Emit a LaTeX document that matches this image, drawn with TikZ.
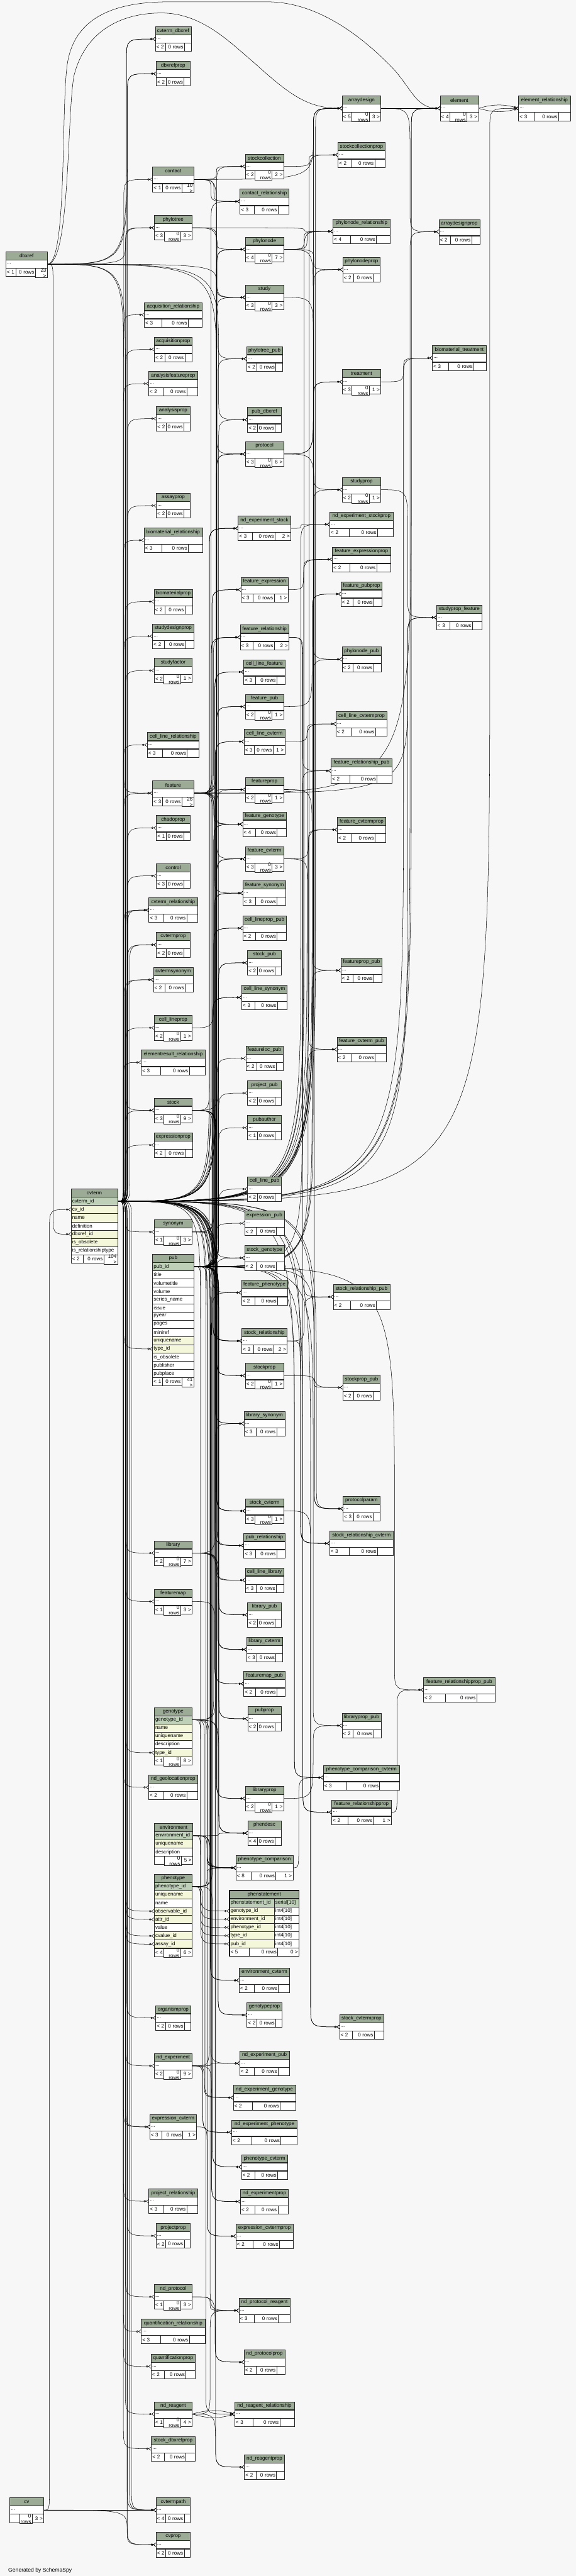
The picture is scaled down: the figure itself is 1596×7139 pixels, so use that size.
\documentclass[tikz,border=0pt]{standalone}
\usepackage{fontspec}
\setmainfont{Liberation Sans}
\usetikzlibrary{arrows.meta,positioning,calc}
\definecolor{Head}{HTML}{9BAB96}
\definecolor{Key}{HTML}{BED1B8}
\definecolor{Idx}{HTML}{F4F7DA}
\definecolor{Canvas}{HTML}{F7F7F7}
\pgfdeclarelayer{canvas}
\pgfdeclarelayer{links}
\pgfsetlayers{canvas,links,main}

% header cell: id, centre x, top y, width (px), title
\newcommand\tabhead[5]{\pgfmathsetmacro\twd{#4*.5-3}%
  \node[hd,text width=\twd pt,anchor=north] (#1-h) at (#2,#3) {#5};}
% one row under another: id, above, width, text, fill
\newcommand\trow[5]{\pgfmathsetmacro\twd{#3*.5-3}%
  \node[cell,fill=#5,text width=\twd pt,anchor=north west] (#1) at (#2.south west) {#4};}
% two-column row (phenstatement): id, above, name, type, fills
\newcommand\prow[6]{%
  \node[cell,fill=#5,text width=59pt,anchor=north west] (#1) at (#2.south west) {#3};
  \node[cell,fill=#6,text width=31.5pt,anchor=north west] (#1-t) at (#1.north east) {#4};}
% footer under the last row: row, width, parents, children
\newcommand\tfoot[4]{\def\ftT{#4}\ifx\ftT\empty\def\ftZ{17}\else\def\ftZ{32}\fi
  \pgfmathsetmacro\ftE{max(0,(#2-79-\ftZ)/3)}%
  \pgfmathsetmacro\ftA{(27+\ftE)*.5-3}%
  \pgfmathsetmacro\ftC{(\ftZ+\ftE)*.5-3}%
  \pgfmathsetmacro\ftB{#2*.5-\ftA-\ftC-9}%
  \node[cell,text width=\ftA pt,anchor=north west] (#1-fl) at (#1.south west) {#3};
  \node[cell,text width=\ftB pt,align=right,anchor=north west] (#1-fm) at (#1-fl.north east) {0 rows};
  \node[cell,text width=\ftC pt,align=right,anchor=north west] (#1-fr) at (#1-fm.north east) {#4};
  \draw[sep] (#1-fl.north west) -- (#1-fr.north east);}
% collapsed table: id, centre x, top y, width, title, parents, children
\newcommand\tbl[7]{\tabhead{#1}{#2}{#3}{#4}{#5}\trow{#1}{#1-h}{#4}{...}{white}\tfoot{#1}{#4}{#6}{#7}%
  \draw[sep] (#1-h.south west) -- (#1-h.south east);}
% foreign key: parent key row -> lane left of the child -> child row
\newcommand\fk[3][0]{\draw[fk] let \p1=(#2.east), \p2=(#3.west),
  \n1={max(\x2-40pt,\x1+8pt)+#1pt},
  \n2={(\y2>\y1?1:-1)*min(max(30pt,1.5*(\n1-\x1)),0.6*abs(\y2-\y1))},
  \n3={(\y2>\y1?1:-1)*min(30pt,0.4*abs(\y2-\y1))} in
  (\p1) .. controls (\n1,\y1) .. (\n1,{\y1+(\n2)}) -- (\n1,{\y2-(\n3)}) .. controls (\n1,\y2) .. (\p2);}

\begin{document}
\begin{tikzpicture}[x=.5pt,y=-.5pt,font=\fontsize{7}{8}\selectfont,
  cell/.style={draw=black!85,line width=.5pt,fill=white,inner xsep=1.5pt,inner ysep=0pt,outer sep=0pt,minimum height=11.4pt,align=left},
  hd/.style={cell,fill=Head,align=center},
  sep/.style={line width=1pt,black!85},
  fk/.style={line width=.45pt,-{Circle[open,length=3pt,width=3pt]Straight Barb[reversed,length=3.5pt,width=5pt]}}]
\useasboundingbox (0,0) rectangle (1596,7139);
\begin{pgfonlayer}{canvas}
  \fill[Canvas] (0,0) rectangle (1596,7139);
\end{pgfonlayer}

% column 1
\tbl{dbxref}{73.5}{698}{115}{dbxref}{< 1}{23 >}
\tbl{cv}{74}{6922}{94}{cv}{}{3 >}

% cvterm
\tabhead{cvterm}{261.5}{3295}{129}{cvterm}
\trow{cvterm}{cvterm-h}{129}{cvterm\_id}{Key}
\trow{cvterm-cv}{cvterm}{129}{cv\_id}{Idx}
\trow{cvterm-name}{cvterm-cv}{129}{name}{Idx}
\trow{cvterm-def}{cvterm-name}{129}{definition}{white}
\trow{cvterm-dbx}{cvterm-def}{129}{dbxref\_id}{Idx}
\trow{cvterm-obs}{cvterm-dbx}{129}{is\_obsolete}{Idx}
\trow{cvterm-rel}{cvterm-obs}{129}{is\_relationshiptype}{white}
\tfoot{cvterm-rel}{129}{< 2}{104 >}
\draw[sep] (cvterm-h.south west) -- (cvterm-h.south east);

% column 2
\tbl{cvterm_dbxref}{480}{74}{99}{cvterm\_dbxref}{< 2}{}
\tbl{dbxrefprop}{480}{170}{94}{dbxrefprop}{< 2}{}
\tbl{contact}{480}{463}{114}{contact}{< 1}{10 >}
\tbl{phylotree}{480}{597}{104}{phylotree}{< 3}{3 >}
\tbl{acquisition_relationship}{480}{838}{160}{acquisition\_relationship}{< 3}{}
\tbl{acquisitionprop}{480}{934}{104}{acquisitionprop}{< 2}{}
\tbl{analysisfeatureprop}{480}{1029}{136}{analysisfeatureprop}{< 2}{}
\tbl{analysisprop}{480}{1126}{93}{analysisprop}{< 2}{}
\tbl{assayprop}{480}{1367}{93}{assayprop}{< 2}{}
\tbl{biomaterial_relationship}{480}{1463}{162}{biomaterial\_relationship}{< 3}{}
\tbl{biomaterialprop}{480}{1633}{106}{biomaterialprop}{< 2}{}
\tbl{studydesignprop}{480}{1729}{114}{studydesignprop}{< 2}{}
\tbl{studyfactor}{480}{1824}{105}{studyfactor}{< 2}{1 >}
\tbl{cell_line_relationship}{480}{2030}{144}{cell\_line\_relationship}{< 3}{}
\tbl{feature}{480}{2164}{114}{feature}{< 3}{26 >}
\tbl{chadoprop}{480}{2260}{93}{chadoprop}{< 1}{}
\tbl{control}{480}{2393}{94}{control}{< 3}{}
\tbl{cvterm_relationship}{480}{2488}{135}{cvterm\_relationship}{< 3}{}
\tbl{cvtermprop}{480}{2584}{93}{cvtermprop}{< 2}{}
\tbl{cvtermsynonym}{480}{2681}{110}{cvtermsynonym}{< 2}{}
\tbl{cell_lineprop}{480}{2814}{105}{cell\_lineprop}{< 2}{1 >}
\tbl{elementresult_relationship}{480}{2910}{177}{elementresult\_relationship}{< 3}{}
\tbl{stock}{480}{3043}{105}{stock}{< 3}{9 >}
\tbl{expressionprop}{480}{3139}{106}{expressionprop}{< 2}{}
\tbl{synonym}{480}{3380}{105}{synonym}{< 1}{3 >}

\tabhead{pub}{480}{3476}{114}{pub}
\trow{pub}{pub-h}{114}{pub\_id}{Key}
\trow{pub-title}{pub}{114}{title}{white}
\trow{pub-vt}{pub-title}{114}{volumetitle}{white}
\trow{pub-vol}{pub-vt}{114}{volume}{white}
\trow{pub-ser}{pub-vol}{114}{series\_name}{white}
\trow{pub-iss}{pub-ser}{114}{issue}{white}
\trow{pub-yr}{pub-iss}{114}{pyear}{white}
\trow{pub-pg}{pub-yr}{114}{pages}{white}
\trow{pub-mr}{pub-pg}{114}{miniref}{white}
\trow{pub-un}{pub-mr}{114}{uniquename}{Idx}
\trow{pub-type}{pub-un}{114}{type\_id}{Idx}
\trow{pub-obs}{pub-type}{114}{is\_obsolete}{white}
\trow{pub-pbl}{pub-obs}{114}{publisher}{white}
\trow{pub-plc}{pub-pbl}{114}{pubplace}{white}
\tfoot{pub-plc}{114}{< 1}{41 >}
\draw[sep] (pub-h.south west) -- (pub-h.south east);

\tbl{library}{480}{4270}{105}{library}{< 2}{7 >}
\tbl{featuremap}{480}{4404}{105}{featuremap}{< 1}{3 >}

\tabhead{genotype}{480}{4732}{105}{genotype}
\trow{genotype}{genotype-h}{105}{genotype\_id}{Key}
\trow{genotype-name}{genotype}{105}{name}{Idx}
\trow{genotype-un}{genotype-name}{105}{uniquename}{Idx}
\trow{genotype-desc}{genotype-un}{105}{description}{white}
\trow{genotype-type}{genotype-desc}{105}{type\_id}{Idx}
\tfoot{genotype-type}{105}{< 1}{8 >}
\draw[sep] (genotype-h.south west) -- (genotype-h.south east);

\tbl{nd_geolocationprop}{480}{4919}{136}{nd\_geolocationprop}{< 2}{}

\tabhead{environment}{481}{5053}{106}{environment}
\trow{environment}{environment-h}{106}{environment\_id}{Key}
\trow{environment-un}{environment}{106}{uniquename}{Idx}
\trow{environment-desc}{environment-un}{106}{description}{white}
\tfoot{environment-desc}{106}{}{5 >}
\draw[sep] (environment-h.south west) -- (environment-h.south east);

\tabhead{phenotype}{480}{5194}{105}{phenotype}
\trow{phenotype}{phenotype-h}{105}{phenotype\_id}{Key}
\trow{phenotype-un}{phenotype}{105}{uniquename}{Idx}
\trow{phenotype-name}{phenotype-un}{105}{name}{white}
\trow{phenotype-obs}{phenotype-name}{105}{observable\_id}{Idx}
\trow{phenotype-attr}{phenotype-obs}{105}{attr\_id}{Idx}
\trow{phenotype-val}{phenotype-attr}{105}{value}{white}
\trow{phenotype-cval}{phenotype-val}{105}{cvalue\_id}{Idx}
\trow{phenotype-assay}{phenotype-cval}{105}{assay\_id}{Idx}
\tfoot{phenotype-assay}{105}{< 4}{6 >}
\draw[sep] (phenotype-h.south west) -- (phenotype-h.south east);

\tbl{organismprop}{480}{5558}{97}{organismprop}{< 2}{}
\tbl{nd_experiment}{480}{5691}{105}{nd\_experiment}{< 2}{9 >}
\tbl{expression_cvterm}{480}{5860}{130}{expression\_cvterm}{< 3}{1 >}
\tbl{project_relationship}{480}{6066}{135}{project\_relationship}{< 3}{}
\tbl{projectprop}{480}{6162}{95}{projectprop}{< 2}{}
\tbl{nd_protocol}{480}{6331}{105}{nd\_protocol}{< 1}{3 >}
\tbl{quantification_relationship}{480}{6427}{177}{quantification\_relationship}{< 3}{}
\tbl{quantificationprop}{480}{6524}{122}{quantificationprop}{< 2}{}
\tbl{nd_reagent}{480}{6656}{105}{nd\_reagent}{< 1}{4 >}
\tbl{stock_dbxrefprop}{480}{6752}{121}{stock\_dbxrefprop}{< 2}{}
\tbl{cvtermpath}{480}{6922}{95}{cvtermpath}{< 4}{}
\tbl{cvprop}{480}{7018}{95}{cvprop}{< 2}{}

% column 3
\tbl{stockcollection}{733}{427}{106}{stockcollection}{< 2}{2 >}
\tbl{contact_relationship}{733}{524}{136}{contact\_relationship}{< 3}{}
\tbl{phylonode}{733}{657}{106}{phylonode}{< 4}{7 >}
\tbl{study}{733}{790}{106}{study}{< 3}{3 >}
\tbl{phylotree_pub}{733}{960}{99}{phylotree\_pub}{< 2}{}
\tbl{pub_dbxref}{733}{1129}{94}{pub\_dbxref}{< 2}{}
\tbl{protocol}{733}{1224}{106}{protocol}{< 3}{6 >}
\tbl{nd_experiment_stock}{733}{1430}{146}{nd\_experiment\_stock}{< 3}{2 >}
\tbl{feature_expression}{733}{1600}{131}{feature\_expression}{< 3}{1 >}
\tbl{feature_relationship}{733}{1732}{135}{feature\_relationship}{< 3}{2 >}
\tbl{cell_line_feature}{733}{1828}{115}{cell\_line\_feature}{< 3}{}
\tbl{feature_pub}{733}{1924}{106}{feature\_pub}{< 2}{1 >}
\tbl{cell_line_cvterm}{733}{2021}{113}{cell\_line\_cvterm}{< 3}{1 >}
\tbl{featureprop}{733}{2154}{106}{featureprop}{< 2}{1 >}
\tbl{feature_genotype}{733}{2250}{121}{feature\_genotype}{< 4}{}
\tbl{feature_cvterm}{733}{2346}{106}{feature\_cvterm}{< 3}{3 >}
\tbl{feature_synonym}{733}{2441}{119}{feature\_synonym}{< 3}{}
\tbl{cell_lineprop_pub}{733}{2538}{121}{cell\_lineprop\_pub}{< 2}{}
\tbl{stock_pub}{733}{2634}{94}{stock\_pub}{< 2}{}
\tbl{cell_line_synonym}{733}{2730}{126}{cell\_line\_synonym}{< 3}{}
\tbl{featureloc_pub}{733}{2899}{103}{featureloc\_pub}{< 2}{}
\tbl{project_pub}{733}{2995}{94}{project\_pub}{< 2}{}
\tbl{pubauthor}{733}{3091}{94}{pubauthor}{< 1}{}
\tbl{cell_line_pub}{733}{3261}{94}{cell\_line\_pub}{< 2}{}
\tbl{expression_pub}{733}{3356}{110}{expression\_pub}{< 2}{}
\tbl{stock_genotype}{733}{3452}{110}{stock\_genotype}{< 2}{}
\tbl{feature_phenotype}{733}{3548}{128}{feature\_phenotype}{< 2}{}
\tbl{stock_relationship}{733}{3682}{125}{stock\_relationship}{< 3}{2 >}
\tbl{stockprop}{733}{3778}{106}{stockprop}{< 2}{1 >}
\tbl{library_synonym}{733}{3911}{113}{library\_synonym}{< 3}{}
\tbl{stock_cvterm}{733}{4153}{106}{stock\_cvterm}{< 3}{1 >}
\tbl{pub_relationship}{733}{4249}{115}{pub\_relationship}{< 3}{}
\tbl{cell_line_library}{733}{4345}{107}{cell\_line\_library}{< 3}{}
\tbl{library_pub}{733}{4441}{94}{library\_pub}{< 2}{}
\tbl{library_cvterm}{733}{4537}{99}{library\_cvterm}{< 3}{}
\tbl{featuremap_pub}{733}{4632}{115}{featuremap\_pub}{< 2}{}
\tbl{pubprop}{733}{4729}{93}{pubprop}{< 2}{}
\tbl{libraryprop}{733}{4950}{106}{libraryprop}{< 2}{1 >}
\tbl{phendesc}{733}{5046}{93}{phendesc}{< 4}{}
\tbl{phenotype_comparison}{733}{5142}{158}{phenotype\_comparison}{< 8}{1 >}

\tabhead{phenstatement}{732.5}{5239}{193}{phenstatement}
\prow{phenstatement}{phenstatement-h}{phenstatement\_id}{serial[10]}{Key}{Key}
\prow{phenstatement-gen}{phenstatement}{genotype\_id}{int4[10]}{Idx}{white}
\prow{phenstatement-env}{phenstatement-gen}{environment\_id}{int4[10]}{Idx}{white}
\prow{phenstatement-phe}{phenstatement-env}{phenotype\_id}{int4[10]}{Idx}{white}
\prow{phenstatement-type}{phenstatement-phe}{type\_id}{int4[10]}{Idx}{white}
\prow{phenstatement-pub}{phenstatement-type}{pub\_id}{int4[10]}{Idx}{white}
\tfoot{phenstatement-pub}{193}{< 5}{0 >}
\draw[sep] (phenstatement-h.south west) -- (phenstatement-h.south east);
\draw[line width=1.4pt] (phenstatement-h.north west) rectangle (phenstatement-pub-fr.south east);

\tbl{environment_cvterm}{733}{5454}{140}{environment\_cvterm}{< 2}{}
\tbl{genotypeprop}{733}{5550}{97}{genotypeprop}{< 2}{}
\tbl{nd_experiment_pub}{733}{5684}{137}{nd\_experiment\_pub}{< 2}{}
\tbl{nd_experiment_genotype}{733}{5779}{173}{nd\_experiment\_genotype}{< 2}{}
\tbl{nd_experiment_phenotype}{733}{5875}{182}{nd\_experiment\_phenotype}{< 2}{}
\tbl{phenotype_cvterm}{733}{5971}{128}{phenotype\_cvterm}{< 2}{}
\tbl{nd_experimentprop}{733}{6067}{133}{nd\_experimentprop}{< 2}{}
\tbl{expression_cvtermprop}{733}{6163}{158}{expression\_cvtermprop}{< 2}{}
\tbl{nd_protocol_reagent}{733}{6369}{141}{nd\_protocol\_reagent}{< 3}{}
\tbl{nd_protocolprop}{733}{6512}{113}{nd\_protocolprop}{< 2}{}
\tbl{nd_reagent_relationship}{733}{6656}{165}{nd\_reagent\_relationship}{< 3}{}
\tbl{nd_reagentprop}{733}{6803}{111}{nd\_reagentprop}{< 2}{}

% column 4
\tbl{arraydesign}{1002}{266}{107}{arraydesign}{< 5}{3 >}
\tbl{stockcollectionprop}{1002}{395}{130}{stockcollectionprop}{< 2}{}
\tbl{phylonode_relationship}{1002}{607}{158}{phylonode\_relationship}{< 4}{}
\tbl{phylonodeprop}{1002}{713}{104}{phylonodeprop}{< 2}{}
\tbl{treatment}{1002}{1024}{107}{treatment}{< 3}{1 >}
\tbl{studyprop}{1002}{1323}{107}{studyprop}{< 2}{1 >}
\tbl{nd_experiment_stockprop}{1002}{1419}{176}{nd\_experiment\_stockprop}{< 2}{}
\tbl{feature_expressionprop}{1002}{1516}{161}{feature\_expressionprop}{< 2}{}
\tbl{feature_pubprop}{1002}{1612}{114}{feature\_pubprop}{< 2}{}
\tbl{phylonode_pub}{1002}{1793}{108}{phylonode\_pub}{< 2}{}
\tbl{cell_line_cvtermprop}{1002}{1972}{142}{cell\_line\_cvtermprop}{< 2}{}
\tbl{feature_relationship_pub}{1002}{2102}{169}{feature\_relationship\_pub}{< 2}{}
\tbl{feature_cvtermprop}{1002}{2265}{134}{feature\_cvtermprop}{< 2}{}
\tbl{featureprop_pub}{1002}{2655}{114}{featureprop\_pub}{< 2}{}
\tbl{feature_cvterm_pub}{1002}{2874}{136}{feature\_cvterm\_pub}{< 2}{}
\tbl{stock_relationship_pub}{1002}{3560}{157}{stock\_relationship\_pub}{< 2}{}
\tbl{stockprop_pub}{1002}{3811}{104}{stockprop\_pub}{< 2}{}
\tbl{protocolparam}{1002}{4147}{102}{protocolparam}{< 3}{}
\tbl{stock_relationship_cvterm}{1002}{4243}{177}{stock\_relationship\_cvterm}{< 3}{}
\tbl{libraryprop_pub}{1002}{4748}{108}{libraryprop\_pub}{< 2}{}
\tbl{phenotype_comparison_cvterm}{1002}{4892}{212}{phenotype\_comparison\_cvterm}{< 3}{}
\tbl{feature_relationshipprop}{1002}{4988}{165}{feature\_relationshipprop}{< 2}{1 >}
\tbl{stock_cvtermprop}{1002}{5583}{122}{stock\_cvtermprop}{< 2}{}

% columns 5 and 6
\tbl{element}{1273}{266}{106}{element}{< 4}{3 >}
\tbl{arraydesignprop}{1273}{608}{113}{arraydesignprop}{< 2}{}
\tbl{biomaterial_treatment}{1273}{958}{149}{biomaterial\_treatment}{< 3}{}
\tbl{studyprop_feature}{1273}{1677}{126}{studyprop\_feature}{< 3}{}
\tbl{feature_relationshipprop_pub}{1273}{4649}{199}{feature\_relationshipprop\_pub}{< 2}{}
\tbl{element_relationship}{1509}{266}{143}{element\_relationship}{< 3}{}

\node[anchor=base west,font=\fontsize{7.5}{9}\selectfont] (gen) at (16,7128) {Generated by SchemaSpy};

\begin{pgfonlayer}{links}
% cvterm
\foreach \ch in {cvterm_dbxref,dbxrefprop,arraydesign,element,element_relationship,stockcollectionprop,
  stockcollection,contact,contact_relationship,phylotree,phylonode_relationship,arraydesignprop,phylonode,
  phylonodeprop,acquisition_relationship,acquisitionprop,biomaterial_treatment,treatment,analysisfeatureprop,
  analysisprop,protocol,studyprop,assayprop,nd_experiment_stock,nd_experiment_stockprop,biomaterial_relationship,
  feature_expressionprop,feature_pubprop,biomaterialprop,studyprop_feature,studydesignprop,feature_relationship,
  studyfactor,cell_line_cvtermprop,cell_line_cvterm,cell_line_relationship,featureprop,feature,feature_genotype,
  chadoprop,feature_cvtermprop,feature_cvterm,control,cvterm_relationship,cvtermprop,cvtermsynonym,cell_lineprop,
  elementresult_relationship,stock,expressionprop,synonym,pub-type,stock_relationship,stockprop,stock_cvterm,
  protocolparam,stock_relationship_cvterm,pub_relationship,library,featuremap,library_cvterm,pubprop,genotype-type,
  phenotype_comparison_cvterm,nd_geolocationprop,libraryprop,feature_relationshipprop,phendesc,phenotype-obs,
  phenotype-attr,phenotype-cval,phenotype-assay,phenstatement-type,environment_cvterm,genotypeprop,organismprop,
  stock_cvtermprop,nd_experiment,expression_cvterm,phenotype_cvterm,project_relationship,nd_experimentprop,
  projectprop,expression_cvtermprop,nd_protocol,nd_protocol_reagent,quantification_relationship,nd_protocolprop,
  quantificationprop,nd_reagent,nd_reagent_relationship,stock_dbxrefprop,nd_reagentprop,cvtermpath,cvprop}
  {\fk{cvterm}{\ch}}
\fk[3]{cvterm}{cvterm_relationship}\fk[6]{cvterm}{cvterm_relationship}
\fk[3]{cvterm}{cvtermpath}\fk[6]{cvterm}{cvtermpath}
\fk[3]{cvterm}{cvtermprop}\fk[3]{cvterm}{cvtermsynonym}\fk[3]{cvterm}{protocolparam}
\fk[3]{cvterm}{arraydesign}\fk[3]{cvterm}{expression_cvterm}
% pub
\foreach \ch in {study,phylotree_pub,pub_dbxref,protocol,feature_expression,phylonode_pub,cell_line_feature,
  feature_pub,cell_line_cvterm,feature_relationship_pub,feature_cvterm,feature_synonym,cell_lineprop_pub,stock_pub,
  featureprop_pub,cell_line_synonym,feature_cvterm_pub,featureloc_pub,project_pub,pubauthor,cell_line_pub,
  expression_pub,stock_relationship_pub,stockprop_pub,library_synonym,stock_cvterm,stock_relationship_cvterm,
  pub_relationship,cell_line_library,library_pub,library_cvterm,featuremap_pub,feature_relationshipprop_pub,pubprop,
  libraryprop_pub,phenotype_comparison_cvterm,phendesc,phenotype_comparison,phenstatement-pub,nd_experiment_pub}
  {\fk{pub}{\ch}}
\fk[3]{pub}{pub_relationship}
% dbxref and cv
\foreach \ch in {cvterm-dbx,cvterm_dbxref,dbxrefprop,phylotree,study,protocol,pub_dbxref,feature,stock}
  {\fk{dbxref}{\ch}}
\draw[fk] (dbxref.east) .. controls (185,735) and (170,320) .. (185,190) .. controls (200,40) and (330,5) .. (470,5)
  -- (740,5) .. controls (880,5) and (1000,100) .. (1080,180) .. controls (1140,240) and (1150,300) .. (element.west);
\draw[fk] (dbxref.east) .. controls (195,735) and (185,320) .. (205,210) .. controls (235,90) and (330,36) .. (448,36)
  .. controls (560,36) and (640,120) .. (700,170) .. controls (800,260) and (850,300) .. (arraydesign.west);
\foreach \ch in {cvterm-cv,cvtermpath,cvprop} {\fk{cv}{\ch}}
% the other parents
\foreach \ch in {arraydesign,stockcollection,contact_relationship,study} {\fk{contact}{\ch}}
\fk[4]{contact}{contact_relationship}
\foreach \ch in {element,phylonode,studyprop_feature,feature_relationship,cell_line_feature,feature_pub,featureprop,
  feature_genotype,feature_cvterm,feature_synonym,feature_expression,feature_phenotype} {\fk{feature}{\ch}}
\fk[3]{feature}{feature_relationship}\fk[3]{feature}{feature_genotype}
\foreach \ch in {nd_experiment_stock,stock_pub,stock_genotype,stock_relationship,stockprop,stock_cvterm} {\fk{stock}{\ch}}
\fk[3]{stock}{stock_relationship}
\foreach \ch in {feature_genotype,stock_genotype,phenstatement-gen,phenotype_comparison,genotypeprop,
  nd_experiment_genotype,phendesc} {\fk{genotype}{\ch}}
\fk[3]{genotype}{phenotype_comparison}
\foreach \ch in {phendesc,phenotype_comparison,phenstatement-env,environment_cvterm} {\fk{environment}{\ch}}
\fk[3]{environment}{phenotype_comparison}
\foreach \ch in {phenotype_comparison,phenstatement-phe,phenotype_cvterm,feature_phenotype,nd_experiment_phenotype}
  {\fk{phenotype}{\ch}}
\fk[3]{phenotype}{phenotype_comparison}
\foreach \ch in {library_synonym,cell_line_library,library_pub,library_cvterm,libraryprop} {\fk{library}{\ch}}
\foreach \ch in {feature_synonym,cell_line_synonym,library_synonym} {\fk{synonym}{\ch}}
\foreach \ch in {nd_experiment_stock,nd_experiment_pub,nd_experiment_genotype,nd_experiment_phenotype,nd_experimentprop}
  {\fk{nd_experiment}{\ch}}
\foreach \ch in {nd_protocol_reagent,nd_protocolprop} {\fk{nd_protocol}{\ch}}
\foreach \ch in {nd_protocol_reagent,nd_reagentprop} {\fk{nd_reagent}{\ch}}
\draw[fk] (nd_reagent.east) to[bend left=16] (nd_reagent_relationship.west);
\draw[fk] (nd_reagent.east) to[bend right=16] (nd_reagent_relationship.west);
\foreach \ch in {phylonode,phylotree_pub,phylonode_relationship} {\fk{phylotree}{\ch}}
\foreach \ch in {phylonode_relationship,phylonodeprop,phylonode_pub} {\fk{phylonode}{\ch}}
\fk[4]{phylonode}{phylonode_relationship}
\foreach \ch in {element,arraydesignprop} {\fk{arraydesign}{\ch}}
\foreach \ch in {arraydesign,treatment,protocolparam} {\fk{protocol}{\ch}}
\draw[fk] (element.east) to[bend left=16] (element_relationship.west);
\draw[fk] (element.east) to[bend right=16] (element_relationship.west);
\fk{stockcollection}{stockcollectionprop}
\fk{study}{studyprop}
\fk{treatment}{biomaterial_treatment}
\fk{studyprop}{studyprop_feature}
\fk{nd_experiment_stock}{nd_experiment_stockprop}
\fk{feature_expression}{feature_expressionprop}
\fk{feature_pub}{feature_pubprop}
\fk{feature_relationship}{feature_relationship_pub}\fk{feature_relationship}{feature_relationshipprop}
\fk{cell_line_cvterm}{cell_line_cvtermprop}
\fk{featureprop}{featureprop_pub}
\fk{feature_cvterm}{feature_cvtermprop}\fk{feature_cvterm}{feature_cvterm_pub}
\fk{cell_lineprop}{cell_lineprop_pub}
\fk{stock_relationship}{stock_relationship_pub}\fk{stock_relationship}{stock_relationship_cvterm}
\fk{stockprop}{stockprop_pub}
\fk{stock_cvterm}{stock_cvtermprop}
\fk{libraryprop}{libraryprop_pub}
\fk{feature_relationshipprop}{feature_relationshipprop_pub}
\fk{phenotype_comparison}{phenotype_comparison_cvterm}
\fk{expression_cvterm}{expression_cvtermprop}
\fk{featuremap}{featuremap_pub}
\end{pgfonlayer}
\end{tikzpicture}
\end{document}
